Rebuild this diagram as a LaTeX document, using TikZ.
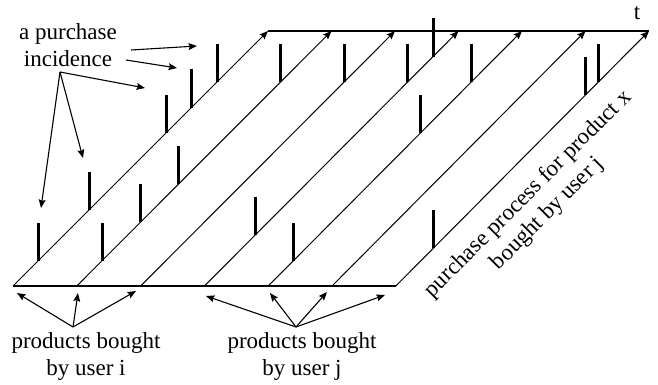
\documentclass[tikz,border=0pt]{standalone}
\usepackage{fontspec}
\setmainfont{Liberation Serif}
\newfontfamily\labelfont{Liberation Serif}
\usetikzlibrary{arrows.meta,calc}
\begin{document}
\begin{tikzpicture}[x=0.5pt,y=-0.5pt,
  axis/.style={line width=0.6pt},
  track/.style={line width=0.5pt,-{Stealth[length=4.2pt,width=3.4pt,inset=0.6pt]}},
  pointer/.style={line width=0.55pt,-{Stealth[length=4.2pt,width=3.4pt,inset=0.6pt]}},
  bar/.style={line width=1.5pt},
  lbl/.style={font=\labelfont\fontsize{11.5}{13.5}\selectfont,align=center,inner sep=0pt}]
\useasboundingbox (0,0) rectangle (658,385);

% purchase-process time lines, one per product
\foreach \k in {0,...,6} {
  \coordinate (b\k) at ({13+63.8*\k},286);
  \coordinate (t\k) at ({268+63.5*\k},31);
}
\draw[axis] (b0) -- (b6);
\draw[axis] (t0) -- (t6);
\foreach \k in {0,...,6} \draw[track] (b\k) -- (t\k);

% purchase incidences: line index / position in twentieths along the line
\foreach \k/\n in {0/16,0/14,0/12,0/6,0/2,1/8,1/5,1/2,1/16,2/16,3/4,3/16,3/18,4/2,4/16,4/12,6/3,6/15,6/16}
  \draw[bar] ($(b\k)!{\n/20}!(t\k)$) -- ++(0,-38);

% labels
\node[lbl] (inc) at (68,45) {a purchase\\incidence};
\node[lbl] (tlab) at (637,13) {t};
\node[lbl] (usri) at (86,356) {products bought\\by user i};
\node[lbl] (usrj) at (302,356) {products bought\\by user j};
\node[lbl,rotate=45] (proc) at (538,204) {purchase process for product x\\bought by user j};

% pointers from the incidence label
\coordinate (incA) at (131,50);
\coordinate (incB) at (126,60);
\coordinate (incC) at (60,72);
\coordinate (pA) at (197,46);
\coordinate (pB) at (177,68);
\coordinate (pC) at (145,88);
\coordinate (pD) at (83,158);
\coordinate (pE) at (41,208);
\draw[pointer] (incA) -- (pA);
\draw[pointer] (incB) -- (pB);
\draw[pointer] (incC) -- (pC);
\draw[pointer] (incC) -- (pD);
\draw[pointer] (incC) -- (pE);

% pointers from the user labels to the products
\coordinate (oi) at (73,327);
\coordinate (oj) at (296,327);
\coordinate (qi1) at (17,293);
\coordinate (qi2) at (78,293);
\coordinate (qi3) at (136,291);
\coordinate (qj1) at (206,296);
\coordinate (qj2) at (270,293);
\coordinate (qj3) at (327,292);
\coordinate (qj4) at (385,295);
\foreach \q in {qi1,qi2,qi3} \draw[pointer] (oi) -- (\q);
\foreach \q in {qj1,qj2,qj3,qj4} \draw[pointer] (oj) -- (\q);
\end{tikzpicture}
\end{document}
